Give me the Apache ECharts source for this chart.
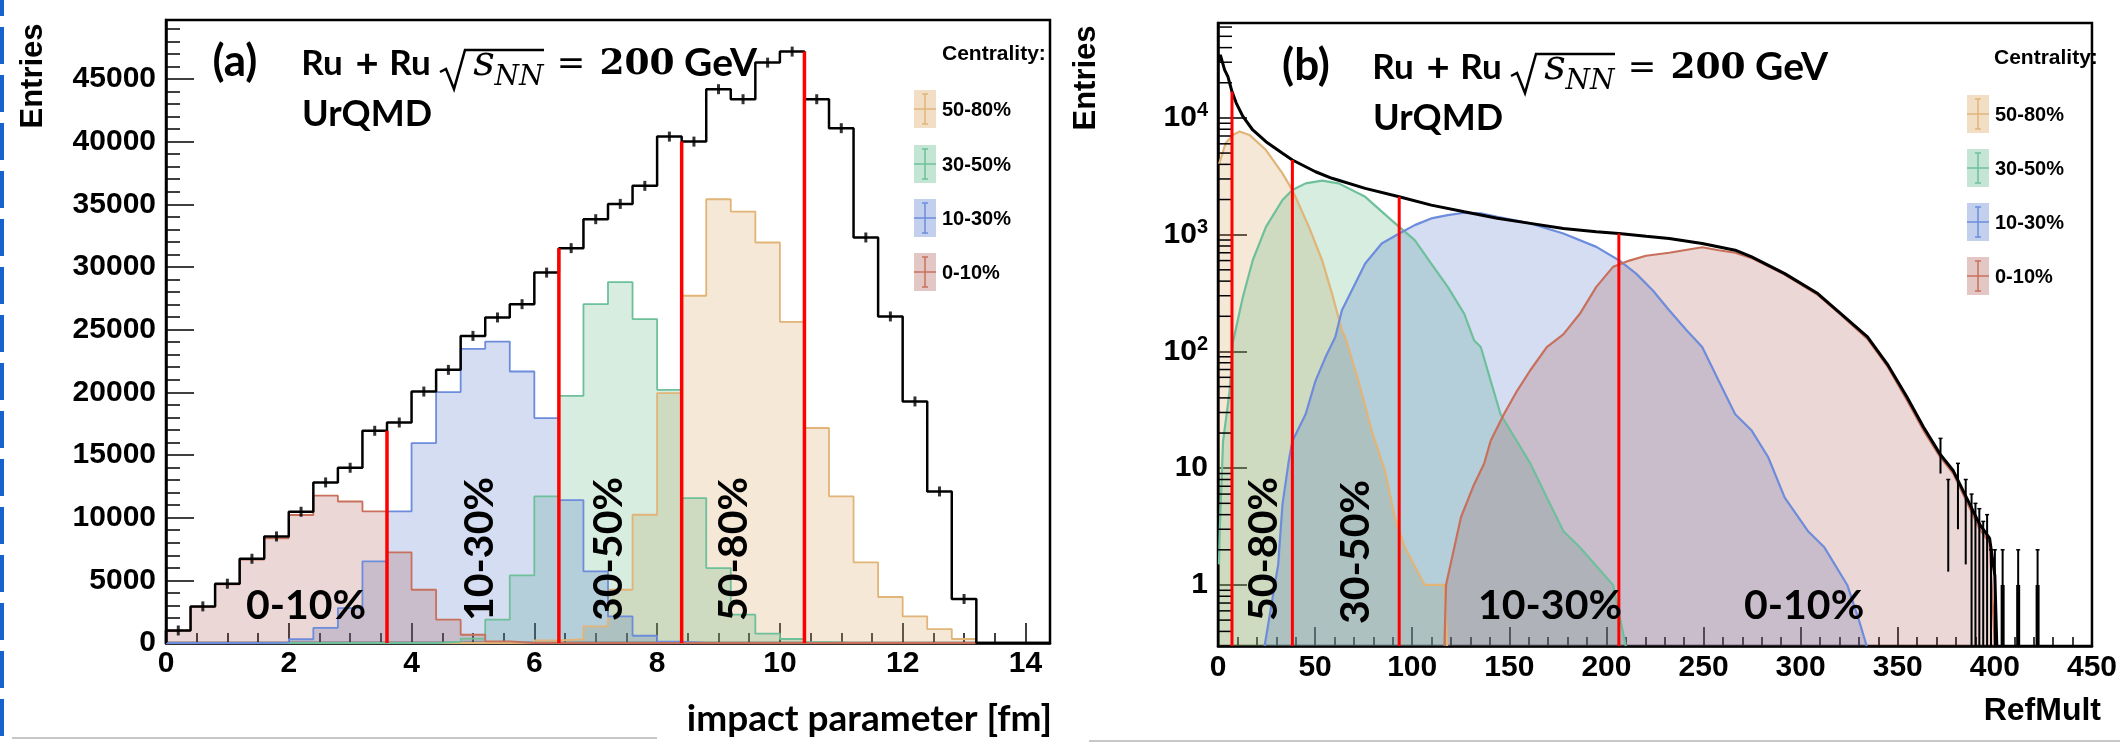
<!DOCTYPE html>
<html>
<head>
<meta charset="utf-8">
<script src="https://cdn.jsdelivr.net/npm/echarts@6/dist/echarts.min.js"></script>
<style>
html,body{margin:0;padding:0;background:#fff;}
#main{width:2120px;height:745px;}
</style>
</head>
<body>
<div id="main"></div>
<script>
// ---------- panel (a): impact parameter, bins of 0.4 fm ----------
var bEdges = [0,0.4,0.8,1.2,1.6,2,2.4,2.8,3.2,3.6,4,4.4,4.8,5.2,5.6,6,6.4,6.8,7.2,7.6,8,8.4,8.8,9.2,9.6,10,10.4,10.8,11.2,11.6,12,12.4,12.8,13.2,13.6,14];
var bMax = 14.4;
var bTotal  = [1000,2920,4730,6720,8500,10470,12810,13980,16930,17590,20060,21790,24500,25970,27030,29550,31500,33810,35030,36470,40400,40000,44180,43380,46300,47180,43380,41070,32350,26050,19270,12090,3510,0,0,0];
var b0_10   = [980,2880,4680,6650,8350,10210,11750,11290,10500,7230,4250,1860,660,130,0,0,0,0,0,0,0,0,0,0,0,0,0,0,0,0,0,0,0,0,0,0];
var b10_30  = [0,0,0,0,30,300,1200,2790,6510,10500,15950,20020,23470,24050,21660,17940,11400,5710,2120,580,100,0,0,0,0,0,0,0,0,0,0,0,0,0,0,0];
var b30_50  = [0,0,0,0,0,0,0,0,0,0,0,100,350,1860,5390,11690,19720,27030,28790,25840,20200,11560,5980,2260,740,320,60,0,0,0,0,0,0,0,0,0];
var b50_80  = [0,0,0,0,0,0,0,0,0,0,0,0,0,0,0,200,300,1330,4250,10230,19940,27700,35400,34420,31950,25620,17150,11690,6430,3670,2120,1110,320,0,0,0];
var cutA = [[3.6,16930],[6.4,31500],[8.4,40000],[10.4,47180]];

// ---------- panel (b): RefMult ----------
var refTotal = [[0.3,30000],[1.2,34700],[3.4,25800],[5.1,22600],[7.2,16800],[9.4,13400],[12.8,10300],[17.9,7880],[24.7,6260],[33.2,4980],[38.3,4360],[50.2,3460],[58.7,3040],[75.8,2490],[93.3,2110],[109.8,1790],[126.8,1570],[143.8,1380],[160.8,1250],[177.8,1130],[194.8,1060],[206.4,1024],[220.4,970],[232.3,927],[249.3,840],[266.3,736],[274.8,645],[291.8,464],[308.8,313],[320.8,210],[334.4,133],[344.6,78],[354.8,40.5],[363.3,22.4],[371.8,13.2],[378.6,9.5],[385.4,5.6],[392.2,3.3],[397.3,2.5],[400,1.2],[401,0.3]];
var ref50_80 = [[0.5,4000],[1.2,4360],[3.9,6060],[7.7,7150],[11.1,7640],[16.2,7150],[24.7,5310],[33.2,3350],[38.3,2410],[46.8,1167],[53.6,604],[58.7,313],[63.8,152],[65.5,133],[72.3,56],[79.1,21],[86,9.5],[91,3.8],[96.2,2.1],[106.4,1],[116.6,1],[118,0.3]];
var ref30_50 = [[0.5,1.5],[0.9,2.9],[2.6,17],[6,46],[7.7,120],[12.8,293],[17.9,604],[24.7,1167],[33.2,1980],[38.3,2410],[45.1,2750],[53.6,2900],[62.1,2750],[75.8,2110],[89.3,1332],[93.3,1167],[101.3,897],[109.8,566],[118.3,357],[126.8,210],[131.9,124],[135.3,109],[140.4,56],[145.5,29],[160.8,11],[169.3,5.6],[177.8,2.9],[186.3,2.1],[203.4,1],[210,0.3]];
var ref10_30 = [[24,0.3],[27,0.6],[31,1.5],[33.2,4.9],[36.6,12],[38.3,17],[45.1,29],[50.2,56],[55.3,89],[60.4,133],[63.8,225],[75.8,566],[84.3,840],[93.3,1024],[101.3,1207],[109.8,1378],[118.3,1470],[126.8,1540],[135.3,1520],[143.8,1420],[160.8,1250],[177.8,1024],[194.8,786],[206.4,604],[215.3,464],[223.8,334],[232.3,225],[240.8,155],[249.3,109],[257.8,56],[266.3,29],[274.8,21],[283.3,12.4],[291.8,5.6],[303.7,2.9],[312.2,2.1],[324,1],[330,0.5],[334,0.3]];
var ref0_10 = [[116.6,0.3],[117.4,1],[125.1,3.8],[131.9,7.3],[137,10.9],[140.4,17.2],[147.2,29],[154,46],[160.8,69],[169.3,109],[177.8,140],[186.3,210],[194.8,357],[203.4,530],[211.8,600],[220.4,660],[232.3,700],[249.3,780],[257.8,736],[266.3,700],[274.8,630],[291.8,455],[308.8,305],[320.8,205],[334.4,128],[344.6,75],[354.8,38],[363.3,21],[371.8,12.5],[378.6,9],[385.4,5.2],[392.2,3],[397.3,2.3],[400,0.3]];
var refTailErr = [[372,9,18],[376,1.3,8],[381,3,11],[385,1.5,8],[388,0.3,6],[390,0.3,5],[392,0.3,4.5],[394,0.3,3.5],[396,0.3,4],[398,0.3,2],[400,0.3,2],[404,0.3,2],[412,0.3,2],[422,0.3,2]];
var refSingle = [[404,1],[412,1],[422,1]];
var cutB = [[7.2,16800],[38.3,4360],[93.3,2110],[206.4,1024]];

var legendNames = ['50-80%','30-50%','10-30%','0-10%'];
var colFill = ['rgba(214,160,90,0.35)','rgba(60,170,110,0.30)','rgba(70,110,200,0.33)','rgba(160,70,60,0.30)'];
var colEdge = ['rgb(225,180,120)','rgb(110,192,155)','rgb(110,140,220)','rgb(200,112,92)'];

var refMin = 0.3, refMax = 65000;

function stepData(vals) {
  var d = [[bEdges[0], 0]];
  for (var i = 0; i < vals.length; i++) d.push([bEdges[i], vals[i]]);
  d.push([bMax, vals[vals.length - 1]]);
  return d;
}

var chart = echarts.init(document.getElementById('main'));

var lblFont = {color:'#000', fontFamily:'Liberation Sans', fontWeight:'bold', fontSize:30};

var series = [];
// (a) coloured centrality histograms
[b50_80, b30_50, b10_30, b0_10].forEach(function (v, k) {
  series.push({
    type:'line', xAxisIndex:0, yAxisIndex:0, step:'end', data:stepData(v),
    symbol:'none', lineStyle:{color:colEdge[k], width:1.8},
    areaStyle:{color:colFill[k], origin:'start'}, z:2, silent:true
  });
});
series.push({
  type:'line', xAxisIndex:0, yAxisIndex:0, step:'end', data:stepData(bTotal),
  symbol:'none', lineStyle:{color:'#000', width:2.5}, z:4, silent:true
});
series.push({
  type:'scatter', xAxisIndex:0, yAxisIndex:0, symbol:'rect', symbolSize:[3,10],
  itemStyle:{color:'#000'}, z:4, silent:true,
  data: bTotal.map(function (v, i) { return [bEdges[i] + 0.2, v]; }).filter(function (p) { return p[1] > 0; })
});
function cutSeries(xi, yi, data, floor, w) {
  return {
    type:'custom', xAxisIndex:xi, yAxisIndex:yi, data:data, z:6, silent:true,
    renderItem:function (params, api) {
      var p0 = api.coord([api.value(0), floor]);
      var p1 = api.coord([api.value(0), api.value(1)]);
      return {type:'line', shape:{x1:p0[0], y1:p0[1], x2:p1[0], y2:p1[1]}, style:{stroke:'#ff0000', lineWidth:w}};
    }
  };
}
series.push(cutSeries(0, 0, cutA, 0, 3.5));

// (b)
[ref50_80, ref30_50, ref10_30, ref0_10].forEach(function (v, k) {
  series.push({
    type:'line', xAxisIndex:2, yAxisIndex:2, data:v, symbol:'none',
    lineStyle:{color:colEdge[k], width:2.2},
    areaStyle:{color:colFill[k], origin:'start'}, z:2, silent:true
  });
});
series.push({
  type:'line', xAxisIndex:2, yAxisIndex:2, data:refTotal, symbol:'none',
  lineStyle:{color:'#000', width:3}, z:4, silent:true
});
series.push({
  type:'custom', xAxisIndex:2, yAxisIndex:2, data:refTailErr, z:4, silent:true,
  renderItem:function (params, api) {
    var lo = api.coord([api.value(0), api.value(1)]);
    var hi = api.coord([api.value(0), api.value(2)]);
    return {type:'group', children:[
      {type:'line', shape:{x1:lo[0], y1:lo[1], x2:hi[0], y2:hi[1]}, style:{stroke:'#000', lineWidth:2}},
      {type:'line', shape:{x1:hi[0]-2, y1:hi[1], x2:hi[0]+2, y2:hi[1]}, style:{stroke:'#000', lineWidth:1.5}}
    ]};
  }
});
series.push({
  type:'custom', xAxisIndex:2, yAxisIndex:2, data:refSingle, z:4, silent:true,
  renderItem:function (params, api) {
    var lo = api.coord([api.value(0), refMin]);
    var hi = api.coord([api.value(0), api.value(1)]);
    return {type:'line', shape:{x1:lo[0], y1:lo[1], x2:hi[0], y2:hi[1]}, style:{stroke:'#000', lineWidth:4}};
  }
});
series.push(cutSeries(2, 2, cutB, refMin, 3));

// minor ticks of the log axis (2..9 x 10^k)
var logMinor = [];
for (var e = -1; e <= 4; e++) {
  for (var m = 2; m <= 9; m++) {
    var v = m * Math.pow(10, e);
    if (v > refMin && v < refMax) logMinor.push([0, v]);
  }
}
series.push({
  type:'custom', xAxisIndex:2, yAxisIndex:2, data:logMinor, z:5, silent:true,
  renderItem:function (params, api) {
    var p = api.coord([0, api.value(1)]);
    return {type:'line', shape:{x1:p[0], y1:p[1], x2:p[0] + 14, y2:p[1]}, style:{stroke:'#000', lineWidth:1.5}};
  }
});

// ---------- text and decorations ----------
function T(x, y, text, size, o) {
  o = o || {};
  return {type:'text', x:x, y:y, rotation:o.rot || 0, z:50, silent:true,
    style:{text:text, fontSize:size, fontFamily:o.family || 'Lato', fontWeight:o.weight || 'bold',
      fontStyle:o.italic ? 'italic' : 'normal', fill:'#000', align:o.align || 'left', verticalAlign:'middle'}};
}
var C = {align:'center'};
var graphics = [];
function title(ox, oy, tag) {
  graphics.push(T(235 + ox, 62 + oy, tag, 44, C));
  graphics.push(T(322 + ox, 64 + oy, 'Ru', 35, C));
  graphics.push(T(367 + ox, 64 + oy, '+', 40, C));
  graphics.push(T(410 + ox, 64 + oy, 'Ru', 35, C));
  graphics.push({type:'polyline', z:50, silent:true,
    shape:{points:[[440+ox,72+oy],[446+ox,69+oy],[454+ox,89+oy],[465+ox,50+oy],[544+ox,50+oy]]},
    style:{stroke:'#000', lineWidth:2.5, fill:null}});
  graphics.push(T(484 + ox, 64 + oy, 's', 42, {family:'DejaVu Serif', weight:'normal', italic:true, align:'center'}));
  graphics.push(T(519 + ox, 78 + oy, 'NN', 28, {family:'DejaVu Serif', weight:'normal', italic:true, align:'center'}));
  graphics.push(T(571 + ox, 65 + oy, '=', 34, {family:'DejaVu Serif', weight:'normal', align:'center'}));
  graphics.push(T(637 + ox, 65 + oy, '200', 36, {family:'DejaVu Serif', align:'center'}));
  graphics.push(T(757 + ox, 63 + oy, 'GeV', 39, {align:'right'}));
  graphics.push(T(302 + ox, 114 + oy, 'UrQMD', 36));
}
title(0, 0, '(a)');
title(1071, 4, '(b)');

function legend(bx, by, cx, cy) {
  graphics.push(T(cx, cy, 'Centrality:', 21, {family:'Liberation Sans'}));
  for (var k = 0; k < 4; k++) {
    var y = by[k];
    graphics.push({type:'rect', z:50, silent:true, shape:{x:bx, y:y, width:22, height:38}, style:{fill:colFill[k]}});
    var st = {stroke:colEdge[k], lineWidth:1.5};
    graphics.push({type:'line', z:51, silent:true, shape:{x1:bx, y1:y+19, x2:bx+22, y2:y+19}, style:st});
    graphics.push({type:'line', z:51, silent:true, shape:{x1:bx+11, y1:y+4, x2:bx+11, y2:y+34}, style:st});
    graphics.push({type:'line', z:51, silent:true, shape:{x1:bx+8, y1:y+4, x2:bx+14, y2:y+4}, style:st});
    graphics.push({type:'line', z:51, silent:true, shape:{x1:bx+8, y1:y+34, x2:bx+14, y2:y+34}, style:st});
    graphics.push(T(bx + 28, y + 20, legendNames[k], 20, {family:'Liberation Sans'}));
  }
}
legend(914, [90,145,199,253], 942, 54);
legend(1967, [95,149,203,257], 1994, 58);

// in-plot centrality labels
var R90 = Math.PI / 2;
graphics.push(T(306, 606, '0-10%', 41, C));
graphics.push(T(480, 549, '10-30%', 41, {align:'center', rot:R90}));
graphics.push(T(609, 549, '30-50%', 41, {align:'center', rot:R90}));
graphics.push(T(734, 549, '50-80%', 41, {align:'center', rot:R90}));
graphics.push(T(1264, 549, '50-80%', 41, {align:'center', rot:R90}));
graphics.push(T(1356, 552, '30-50%', 41, {align:'center', rot:R90}));
graphics.push(T(1478, 606, '10-30%', 41));
graphics.push(T(1744, 606, '0-10%', 41));

// axis titles
graphics.push(T(33, 76, 'Entries', 31, {family:'Liberation Sans', align:'center', rot:R90}));
graphics.push(T(1086, 78, 'Entries', 31, {family:'Liberation Sans', align:'center', rot:R90}));
graphics.push(T(1052, 719, 'impact parameter [fm]', 37, {align:'right'}));
graphics.push(T(2101, 711, 'RefMult', 32, {family:'Liberation Sans', align:'right'}));

// slide decorations
graphics.push({type:'line', z:1, silent:true, shape:{x1:2, y1:0, x2:2, y2:745}, style:{stroke:'#1862cc', lineWidth:4, lineDash:[37,11], lineDashOffset:21}});
graphics.push({type:'line', z:1, silent:true, shape:{x1:12, y1:738, x2:657, y2:738}, style:{stroke:'#b4b4b4', lineWidth:1.5}});
graphics.push({type:'line', z:1, silent:true, shape:{x1:1089, y1:741, x2:2120, y2:741}, style:{stroke:'#b4b4b4', lineWidth:1.5}});

function supFmt(v) {
  var e = Math.round(Math.log(v) / Math.LN10);
  if (e <= 0) return '1';
  if (e === 1) return '10';
  return '10{sup|' + e + '}';
}
function plainFmt(v) { return String(v); }

chart.setOption({
  animation:false,
  backgroundColor:'#fff',
  grid:[
    {left:166, top:20, width:884, height:623, show:true, borderColor:'#000', borderWidth:2.5},
    {left:1218, top:23, width:885, height:623, show:true, borderColor:'#000', borderWidth:2.5}
  ],
  xAxis:[
    {gridIndex:0, type:'value', min:0, max:bMax, interval:2, position:'bottom',
     axisLine:{lineStyle:{color:'#000', width:2.5}},
     axisTick:{inside:true, length:20, lineStyle:{color:'#000', width:1.5}},
     axisLabel:Object.assign({margin:6, showMaxLabel:false, formatter:plainFmt}, lblFont), splitLine:{show:false}},
    {gridIndex:0, type:'value', min:0, max:bMax, interval:0.5, position:'bottom',
     axisLine:{show:false}, axisTick:{inside:true, length:10, lineStyle:{color:'#000', width:1.5}},
     axisLabel:{show:false}, splitLine:{show:false}},
    {gridIndex:1, type:'value', min:0, max:450, interval:50, position:'bottom',
     axisLine:{lineStyle:{color:'#000', width:2.5}},
     axisTick:{inside:true, length:19, lineStyle:{color:'#000', width:1.5}},
     axisLabel:Object.assign({margin:7, formatter:plainFmt}, lblFont), splitLine:{show:false}},
    {gridIndex:1, type:'value', min:0, max:450, interval:10, position:'bottom',
     axisLine:{show:false}, axisTick:{inside:true, length:9, lineStyle:{color:'#000', width:1.5}},
     axisLabel:{show:false}, splitLine:{show:false}}
  ],
  yAxis:[
    {gridIndex:0, type:'value', min:0, max:49700, interval:5000, position:'left',
     axisLine:{show:true, lineStyle:{color:'#000', width:2.5}},
     axisTick:{show:true, inside:true, length:28, lineStyle:{color:'#000', width:1.5}},
     axisLabel:Object.assign({margin:10, showMaxLabel:false, formatter:plainFmt}, lblFont), splitLine:{show:false}},
    {gridIndex:0, type:'value', min:0, max:49700, interval:1000, position:'left',
     axisLine:{show:false}, axisTick:{show:true, inside:true, length:14, lineStyle:{color:'#000', width:1.5}},
     axisLabel:{show:false}, splitLine:{show:false}},
    {gridIndex:1, type:'log', logBase:10, min:refMin, max:refMax, position:'left',
     axisLine:{show:true, lineStyle:{color:'#000', width:2.5}},
     axisTick:{show:true, inside:true, length:29, lineStyle:{color:'#000', width:1.5}},
     axisLabel:Object.assign({margin:10, showMinLabel:false, showMaxLabel:false, formatter:supFmt,
       rich:{sup:{fontSize:20, fontFamily:'Liberation Sans', fontWeight:'bold', color:'#000', verticalAlign:'bottom', padding:[0,0,14,0]}}}, lblFont),
     splitLine:{show:false}}
  ],
  series:series,
  graphic:graphics
});
</script>
</body>
</html>
